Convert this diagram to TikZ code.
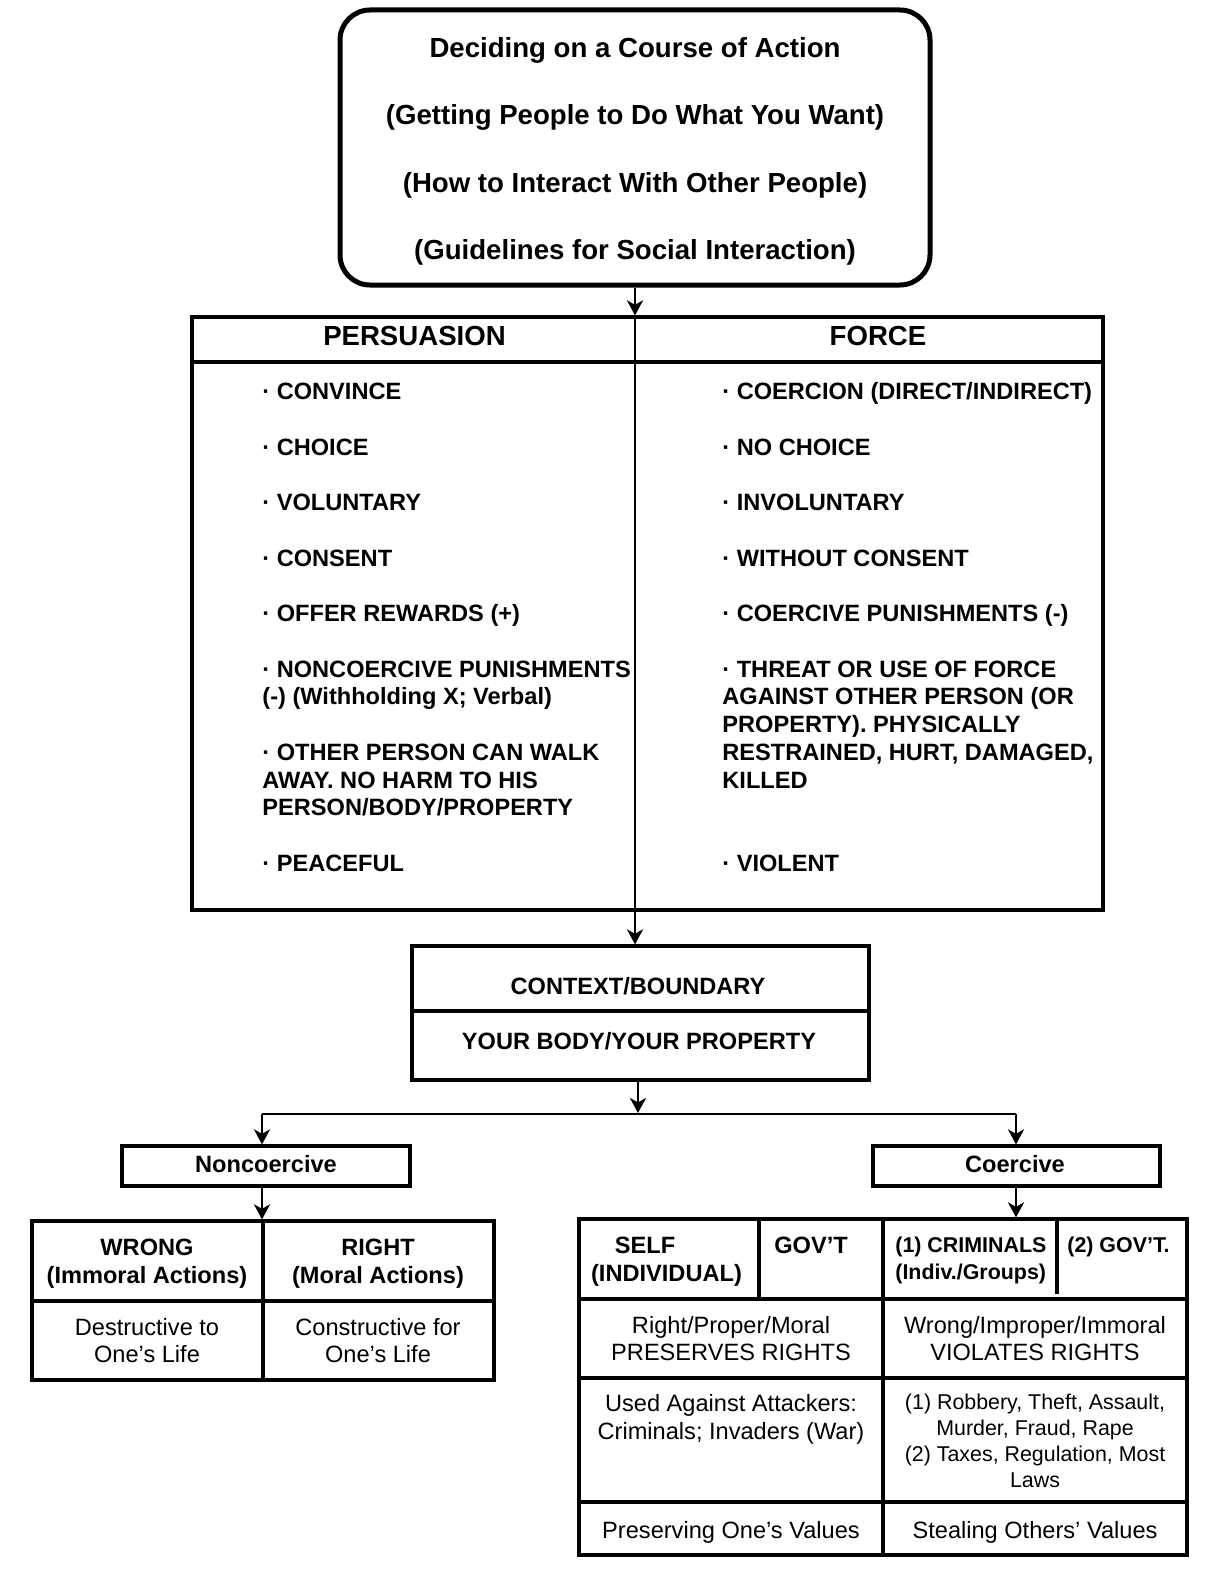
\documentclass[tikz,border=0pt]{standalone}
\usepackage{fontspec}
\setmainfont{Liberation Sans}
\usetikzlibrary{arrows.meta}
\begin{document}
\begin{tikzpicture}[x=0.5pt,y=-0.5pt,
  txtbig/.style={font=\bfseries\fontsize{13.8}{16}\selectfont, inner sep=0pt},
  txtb/.style={font=\bfseries\fontsize{11.8}{14}\selectfont, inner sep=0pt},
  txtr/.style={font=\fontsize{11.8}{14}\selectfont, inner sep=0pt},
  txtbs/.style={font=\bfseries\fontsize{10.7}{13}\selectfont, inner sep=0pt},
  txtrs/.style={font=\fontsize{10.7}{13}\selectfont, inner sep=0pt},
  frame/.style={draw, line width=1.6pt, inner sep=0pt},
  rule/.style={line width=1.6pt},
  arr/.style={line width=1.4pt, -{Stealth[length=7.5pt,width=8pt,inset=2.2pt]}}
]
\useasboundingbox (0,0) rectangle (1224,1584);

% ---------- title box ----------
\node[draw, line width=2.5pt, rounded corners=15pt, minimum width=295pt, minimum height=137.5pt, inner sep=0pt] (title) at (635,147.5) {};
\node[txtbig, anchor=base] (ti1) at (635,58) {Deciding on a Course of Action};
\node[txtbig, anchor=base] (ti2) at (635,125) {(Getting People to Do What You Want)};
\node[txtbig, anchor=base] (ti3) at (635,192) {(How to Interact With Other People)};
\node[txtbig, anchor=base] (ti4) at (635,259) {(Guidelines for Social Interaction)};

% ---------- persuasion / force table ----------
\node[frame, minimum width=455.5pt, minimum height=296.5pt] (tab) at (647.5,613.5) {};
\coordinate (h1) at (0,362);
\draw[rule] (tab.west |- h1) -- (tab.east |- h1);
\node[txtbig, anchor=base] (hp) at (414.5,345) {PERSUASION};
\node[txtbig, anchor=base] (hf) at (878,345) {FORCE};

\foreach \k/\t in {0/{· CONVINCE},2/{· CHOICE},4/{· VOLUNTARY},6/{· CONSENT},8/{· OFFER REWARDS (+)},10/{· NONCOERCIVE PUNISHMENTS},11/{(-) (Withholding X; Verbal)},13/{· OTHER PERSON CAN WALK},14/{AWAY. NO HARM TO HIS},15/{PERSON/BODY/PROPERTY},17/{· PEACEFUL}}
  \node[txtb, anchor=base west] (pl\k) at (262,{399.5+27.75*\k}) {\t};

\foreach \k/\t in {0/{· COERCION (DIRECT/INDIRECT)},2/{· NO CHOICE},4/{· INVOLUNTARY},6/{· WITHOUT CONSENT},8/{· COERCIVE PUNISHMENTS (-)},10/{· THREAT OR USE OF FORCE},11/{AGAINST OTHER PERSON (OR},12/{PROPERTY). PHYSICALLY},13/{RESTRAINED, HURT, DAMAGED,},14/{KILLED},17/{· VIOLENT}}
  \node[txtb, anchor=base west] (fr\k) at (722,{399.5+27.75*\k}) {\t};

% ---------- context box ----------
\node[frame, minimum width=228.5pt, minimum height=67pt] (ctx) at (640.5,1013) {};
\coordinate (h2) at (0,1011);
\draw[rule] (ctx.west |- h2) -- (ctx.east |- h2);
\node[txtb, anchor=base] (c1) at (638,994.5) {CONTEXT/BOUNDARY};
\node[txtb, anchor=base] (c2) at (639,1049.5) {YOUR BODY/YOUR PROPERTY};

% ---------- noncoercive / coercive ----------
\node[frame, minimum width=144pt, minimum height=20pt] (nonc) at (266,1166) {};
\node[txtb, anchor=base] (nct) at (266,1172.5) {Noncoercive};
\node[frame, minimum width=143.5pt, minimum height=20pt] (coer) at (1016.5,1166) {};
\node[txtb, anchor=base] (cot) at (1015,1172.5) {Coercive};

% ---------- left table ----------
\node[frame, minimum width=231pt, minimum height=79.5pt] (lt) at (263,1300.5) {};
\coordinate (h3) at (0,1301);
\draw[rule] (lt.north) -- (lt.south);
\draw[rule] (lt.west |- h3) -- (lt.east |- h3);
\node[txtb, anchor=base] (w1) at (147,1255.5) {WRONG};
\node[txtb, anchor=base] (w2) at (147,1283.5) {(Immoral Actions)};
\node[txtb, anchor=base] (r1) at (378,1255.5) {RIGHT};
\node[txtb, anchor=base] (r2) at (378,1283.5) {(Moral Actions)};
\node[txtr, anchor=base] (d1) at (147,1335.5) {Destructive to};
\node[txtr, anchor=base] (d2) at (147,1362.5) {One’s Life};
\node[txtr, anchor=base] (k1) at (378,1335.5) {Constructive for};
\node[txtr, anchor=base] (k2) at (378,1362.5) {One’s Life};

% ---------- right table ----------
\node[frame, minimum width=304pt, minimum height=168pt] (rtab) at (883,1387) {};
\coordinate (h4) at (0,1299);
\coordinate (h5) at (0,1378);
\coordinate (h6) at (0,1502);
\coordinate (v1) at (759,0);
\coordinate (v2) at (1057,0);
\draw[rule] (rtab.north) -- (rtab.south);
\draw[rule] (rtab.west |- h4) -- (rtab.east |- h4);
\draw[rule] (rtab.west |- h5) -- (rtab.east |- h5);
\draw[rule] (rtab.west |- h6) -- (rtab.east |- h6);
\draw[rule] (v1 |- rtab.north) -- (v1 |- h4);
\draw[rule] (v2 |- rtab.north) -- ([yshift=2.5pt]v2 |- h4);
\node[txtb, anchor=base] (s1) at (645,1253.5) {SELF};
\node[txtb, anchor=base] (s2) at (666.5,1281.5) {(INDIVIDUAL)};
\node[txtb, anchor=base] (g1) at (811,1253.5) {GOV’T};
\node[txtbs, anchor=base west] (cr1) at (895,1252.7) {(1) CRIMINALS};
\node[txtbs, anchor=base west] (cr2) at (895,1279.7) {(Indiv./Groups)};
\node[txtbs, anchor=base west] (g2) at (1067,1252.7) {(2) GOV’T.};
\node[txtr, anchor=base] (rp1) at (731,1333.5) {Right/Proper/Moral};
\node[txtr, anchor=base] (rp2) at (731,1360.5) {PRESERVES RIGHTS};
\node[txtr, anchor=base] (wi1) at (1035,1333.5) {Wrong/Improper/Immoral};
\node[txtr, anchor=base] (wi2) at (1035,1360.5) {VIOLATES RIGHTS};
\node[txtr, anchor=base] (ua1) at (731,1411.5) {Used Against Attackers:};
\node[txtr, anchor=base] (ua2) at (731,1439.5) {Criminals; Invaders (War)};
\node[txtrs, anchor=base] (rb1) at (1035,1409.7) {(1) Robbery, Theft, Assault,};
\node[txtrs, anchor=base] (rb2) at (1035,1435.7) {Murder, Fraud, Rape};
\node[txtrs, anchor=base] (rb3) at (1035,1461.7) {(2) Taxes, Regulation, Most};
\node[txtrs, anchor=base] (rb4) at (1035,1487.7) {Laws};
\node[txtr, anchor=base] (pv) at (731,1538.5) {Preserving One’s Values};
\node[txtr, anchor=base] (sv) at (1035,1538.5) {Stealing Others’ Values};

% ---------- connectors ----------
\draw[arr] (title.south) -- (title.south |- tab.north);
\draw[arr] (title.south |- tab.north) -- (title.south |- ctx.north);
\coordinate (jn) at (638,1113);
\coordinate (jl) at (262,1114);
\coordinate (jr) at (1016,1114);
\draw[arr] (ctx.south -| jn) -- (jn);
\draw[line width=1.4pt] (jl) -- (jr);
\draw[arr] (jl) -- (jl |- nonc.north);
\draw[arr] (jr) -- (jr |- coer.north);
\draw[arr] (jl |- nonc.south) -- (jl |- lt.north);
\draw[arr] (jr |- coer.south) -- (jr |- rtab.north);
\end{tikzpicture}
\end{document}
